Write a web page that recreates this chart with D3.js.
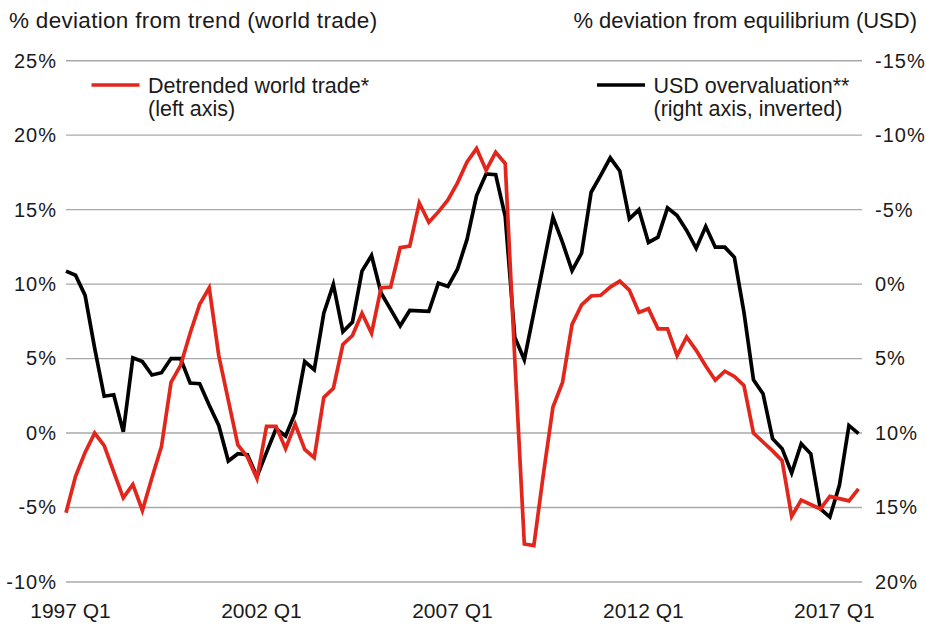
<!DOCTYPE html>
<html lang="en">
<head>
  <meta charset="UTF-8" />
  <title>World trade vs USD overvaluation</title>
  <script src="https://d3js.org/d3.v7.min.js"></script>
  <style>
    body {
      margin: 0;
      background: #fff;
    }

    svg text {
      font-family: "Liberation Sans", Arial, sans-serif;
      fill: #1a1a1a;
    }

    .grid line {
      stroke: #a8a8a8;
      stroke-width: 1.4;
    }

    .series {
      fill: none;
      stroke-width: 3.7;
      stroke-linejoin: miter;
    }
  </style>
</head>
<body>

<svg id="chart" width="926" height="625"></svg>

<script>
/* ---------------- DATA ---------------- */

const startYear = 1997;
const quarterCount = 84; // 1997 Q1 .. 2017 Q4

// detrended world trade, % deviation from trend (left axis)
const worldTrade = [
  -5.35, -2.9, -1.3, 0.0, -0.85, -2.6, -4.35, -3.45, -5.2, -3.0,
  -0.9, 3.4, 4.55, 6.7, 8.65, 9.75, 5.2, 2.2, -0.8, -1.6,
  -3.05, 0.45, 0.45, -1.05, 0.6, -1.1, -1.65, 2.4, 3.0, 5.95,
  6.55, 8.05, 6.7, 9.75, 9.8, 12.45, 12.55, 15.45, 14.15, 14.85,
  15.65, 16.8, 18.2, 19.1, 17.65, 18.85, 18.1, 5.0, -7.45, -7.55,
  -2.75, 1.75, 3.4, 7.3, 8.6, 9.2, 9.25, 9.8, 10.2, 9.6,
  8.1, 8.35, 7.0, 7.0, 5.2, 6.45, 5.55, 4.5, 3.55, 4.15,
  3.8, 3.2, 0.0, -0.6, -1.2, -1.85, -5.6, -4.5, -4.8, -5.1,
  -4.25, -4.4, -4.55, -3.75
];

// USD deviation from equilibrium, % (right axis, inverted)
const usdOvervaluation = [
  -0.87, -0.6, 0.76, 4.3, 7.53, 7.43, 9.92, 4.95, 5.2, 6.1,
  5.95, 5.0, 5.0, 6.64, 6.69, 8.14, 9.49, 11.88, 11.39, 11.45,
  12.93, 11.3, 9.71, 10.2, 8.65, 5.2, 5.75, 1.95, 0.02, 3.2,
  2.55, -0.87, -1.92, 0.6, 1.7, 2.8, 1.77, 1.8, 1.83, -0.07,
  0.16, -1.0, -3.0, -5.95, -7.4, -7.35, -4.55, 3.56, 5.08, 1.9,
  -1.3, -4.5, -2.8, -0.9, -2.08, -6.17, -7.3, -8.48, -7.6, -4.38,
  -4.99, -2.8, -3.15, -5.12, -4.6, -3.6, -2.4, -3.87, -2.48, -2.48,
  -1.8, 1.88, 6.42, 7.36, 10.38, 11.05, 12.68, 10.72, 11.39, 15.08,
  15.64, 13.51, 9.49, 10.04
];

const leftTicks = [-10, -5, 0, 5, 10, 15, 20, 25];
const rightTicks = [20, 15, 10, 5, 0, -5, -10, -15];
const xTickIndex = [0, 20, 40, 60, 80];

const quarters = d3.range(quarterCount).map(i => `${startYear + Math.floor(i / 4)} Q${i % 4 + 1}`);

const legendItems = [
  { lines: ["Detrended world trade*", "(left axis)"], color: "#e3261b", x: 91.5 },
  { lines: ["USD overvaluation**", "(right axis, inverted)"], color: "#000000", x: 597 }
];

/* ---------------- SCALES ---------------- */

const svg = d3.select("#chart");

const plotLeft = 66, plotRight = 862, plotTop = 60.7, plotBottom = 582;

const x = d3.scaleLinear().domain([0, quarterCount - 1]).range([plotLeft, 858.5]);
const yLeft = d3.scaleLinear().domain([-10, 25]).range([plotBottom, plotTop]);
const yRight = d3.scaleLinear().domain([20, -15]).range([plotBottom, plotTop]);

/* ---------------- GRID + AXES ---------------- */

svg.append("g")
  .attr("class", "grid")
  .selectAll("line")
  .data(leftTicks)
  .join("line")
  .attr("x1", plotLeft)
  .attr("x2", plotRight)
  .attr("y1", d => yLeft(d))
  .attr("y2", d => yLeft(d));

const leftAxis = svg.append("g")
  .attr("transform", `translate(${plotLeft - 9},0)`)
  .call(d3.axisLeft(yLeft).tickValues(leftTicks).tickSize(0).tickPadding(0).tickFormat(d => d + "%"));

const rightAxis = svg.append("g")
  .attr("transform", `translate(${plotRight + 13},0)`)
  .call(d3.axisRight(yRight).tickValues(rightTicks).tickSize(0).tickPadding(0).tickFormat(d => d + "%"));

const bottomAxis = svg.append("g")
  .attr("transform", `translate(4,603)`)
  .call(d3.axisBottom(x).tickValues(xTickIndex).tickSize(0).tickPadding(0).tickFormat(i => quarters[i]));

[leftAxis, rightAxis, bottomAxis].forEach(g => {
  g.select(".domain").remove();
  g.selectAll("text").attr("fill", "#1a1a1a");
});
leftAxis.selectAll("text").attr("font-size", 20).attr("letter-spacing", 1);
rightAxis.selectAll("text").attr("font-size", 20).attr("letter-spacing", 1);
bottomAxis.selectAll("text").attr("font-size", 21);

/* ---------------- AXIS TITLES ---------------- */

svg.append("text")
  .attr("x", 9)
  .attr("y", 28)
  .attr("font-size", 22.5)
  .attr("letter-spacing", 0.3)
  .text("% deviation from trend (world trade)");

svg.append("text")
  .attr("x", 917)
  .attr("y", 28)
  .attr("text-anchor", "end")
  .attr("font-size", 22)
  .text("% deviation from equilibrium (USD)");

/* ---------------- SERIES ---------------- */

const lineLeft = d3.line().x((d, i) => x(i)).y(d => yLeft(d));
const lineRight = d3.line().x((d, i) => x(i)).y(d => yRight(d));

svg.append("path")
  .datum(usdOvervaluation)
  .attr("class", "series")
  .attr("stroke", "#000000")
  .attr("d", lineRight);

svg.append("path")
  .datum(worldTrade)
  .attr("class", "series")
  .attr("stroke", "#e3261b")
  .attr("d", lineLeft);

/* ---------------- LEGEND ---------------- */

const legend = svg.selectAll(".legend")
  .data(legendItems)
  .join("g")
  .attr("class", "legend")
  .attr("transform", d => `translate(${d.x},85)`);

legend.append("line")
  .attr("x1", 0)
  .attr("x2", 48)
  .attr("stroke", d => d.color)
  .attr("stroke-width", 3.7);

legend.append("text")
  .attr("y", 8.3)
  .attr("font-size", 21.5)
  .selectAll("tspan")
  .data(d => d.lines)
  .join("tspan")
  .attr("x", 56.5)
  .attr("dy", (d, i) => i === 0 ? 0 : 23)
  .text(d => d);
</script>

</body>
</html>
